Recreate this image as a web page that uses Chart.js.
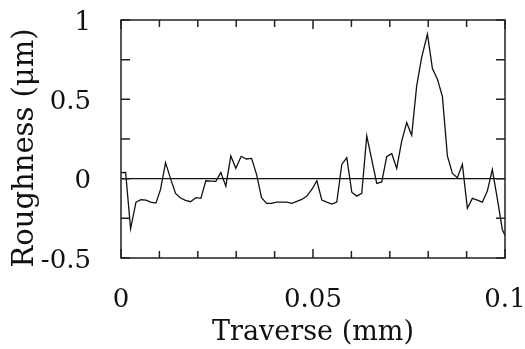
<!DOCTYPE html>
<html>
<head>
<meta charset="utf-8">
<script src="https://cdn.jsdelivr.net/npm/chart.js@4/dist/chart.umd.min.js"></script>
<style>
  html, body { margin: 0; padding: 0; background: #fff; }
</style>
</head>
<body>
<canvas id="myChart" width="525" height="349"></canvas>
<script>
// traverse position (mm) and roughness (µm)
const traverse = [
  0, 0.0012, 0.0025, 0.0039, 0.0052, 0.0065, 0.0077, 0.0091, 0.0103, 0.0116,
  0.0129, 0.0142, 0.0155, 0.0168, 0.0181, 0.0195, 0.0208, 0.0221, 0.0234, 0.0247,
  0.0260, 0.0273, 0.0286, 0.0299, 0.0313, 0.0326, 0.0340, 0.0353, 0.0366, 0.0379,
  0.0392, 0.0405, 0.0418, 0.0432, 0.0445, 0.0458, 0.0471, 0.0484, 0.0497, 0.0510,
  0.0523, 0.0536, 0.0549, 0.0562, 0.0575, 0.0588, 0.0601, 0.0614, 0.0627, 0.0640,
  0.0653, 0.0666, 0.0679, 0.0692, 0.0705, 0.0718, 0.0731, 0.0744, 0.0757, 0.0770,
  0.0783, 0.0798, 0.0811, 0.0824, 0.0837, 0.0850, 0.0863, 0.0876, 0.0889, 0.0902,
  0.0915, 0.0928, 0.0941, 0.0954, 0.0967, 0.0980, 0.0993, 0.1
];
const roughness = [
  0.038, 0.04, -0.316, -0.148, -0.133, -0.135, -0.148, -0.154, -0.068, 0.101,
  0.0, -0.093, -0.122, -0.137, -0.145, -0.12, -0.124, -0.013, -0.015, -0.017,
  0.038, -0.047, 0.143, 0.065, 0.141, 0.124, 0.128, 0.027, -0.12, -0.156,
  -0.156, -0.148, -0.148, -0.148, -0.156, -0.143, -0.131, -0.11, -0.068, -0.013,
  -0.135, -0.148, -0.16, -0.148, 0.09, 0.133, -0.085, -0.11, -0.093, 0.269,
  0.12, -0.03, -0.021, 0.139, 0.158, 0.065, 0.237, 0.353, 0.273, 0.585,
  0.764, 0.911, 0.694, 0.627, 0.518, 0.143, 0.033, 0.006, 0.09, -0.187,
  -0.124, -0.135, -0.148, -0.078, 0.057, -0.126, -0.32, -0.358
];

const xTicks = [0, 0.05, 0.1];
const xMinorTicks = [0.01, 0.02, 0.03, 0.04, 0.06, 0.07, 0.08, 0.09];
const yTicks = [-0.5, 0, 0.5, 1];
const yMinorTicks = [-0.25, 0.25, 0.75];
const xTitle = 'Traverse (mm)';
const yTitle = 'Roughness (μm)';

const serif = 'DejaVu Serif';
const ink = '#111';

// box, inward ticks, zero line and the vertical axis title
const frame = {
  id: 'frame',
  beforeDatasetsDraw(chart) {
    const {ctx, chartArea: a, scales: {y}} = chart;
    const y0 = y.getPixelForValue(0);
    ctx.save();
    ctx.strokeStyle = ink;
    ctx.lineWidth = 1.2;
    ctx.beginPath();
    ctx.moveTo(a.left, y0);
    ctx.lineTo(a.right, y0);
    ctx.stroke();
    ctx.restore();
  },
  afterDatasetsDraw(chart) {
    const {ctx, chartArea: a, scales: {x, y}} = chart;
    ctx.save();
    ctx.strokeStyle = '#222';
    ctx.lineWidth = 1.5;
    ctx.strokeRect(a.left, a.top, a.right - a.left, a.bottom - a.top);

    ctx.beginPath();
    xTicks.concat(xMinorTicks).forEach(v => {
      const px = x.getPixelForValue(v);
      const len = xTicks.includes(v) ? 9 : 7;
      ctx.moveTo(px, a.top);
      ctx.lineTo(px, a.top + len);
      ctx.moveTo(px, a.bottom);
      ctx.lineTo(px, a.bottom - len);
    });
    yTicks.concat(yMinorTicks).forEach(v => {
      const py = y.getPixelForValue(v);
      ctx.moveTo(a.left, py);
      ctx.lineTo(a.left + 9, py);
      ctx.moveTo(a.right, py);
      ctx.lineTo(a.right - 9, py);
    });
    ctx.stroke();

    ctx.translate(25, 148);
    ctx.rotate(-Math.PI / 2);
    ctx.fillStyle = ink;
    ctx.font = '29px "' + serif + '"';
    ctx.textAlign = 'center';
    ctx.textBaseline = 'middle';
    ctx.fillText(yTitle, 0, 0);
    ctx.restore();
  }
};

const data = {
  datasets: [{
    label: 'Roughness',
    data: traverse.map((t, i) => ({x: t, y: roughness[i]})),
    borderColor: ink,
    borderWidth: 1.3,
    pointRadius: 0,
    tension: 0,
    fill: false
  }]
};

const config = {
  type: 'line',
  data: data,
  options: {
    responsive: false,
    animation: false,
    layout: {padding: {top: 20, right: 20, left: 0, bottom: 0}},
    plugins: {legend: {display: false}, tooltip: {enabled: false}},
    scales: {
      x: {
        type: 'linear',
        min: 0,
        max: 0.1,
        afterBuildTicks: s => { s.ticks = xTicks.map(v => ({value: v})); },
        afterFit: s => { s.height = 91; s.paddingLeft = 0; s.paddingRight = 0; },
        grid: {display: false, drawTicks: false},
        border: {display: false},
        ticks: {
          padding: 27,
          maxRotation: 0,
          autoSkip: false,
          color: ink,
          font: {family: serif, size: 26},
          callback: v => String(v)
        },
        title: {
          display: true,
          text: xTitle,
          color: ink,
          font: {family: serif, size: 27},
          padding: {top: 0, bottom: 0}
        }
      },
      y: {
        min: -0.5,
        max: 1,
        afterBuildTicks: s => { s.ticks = yTicks.map(v => ({value: v})); },
        afterFit: s => { s.width = 121; s.paddingTop = 0; s.paddingBottom = 0; },
        grid: {display: false, drawTicks: false},
        border: {display: false},
        ticks: {
          padding: 30,
          labelOffset: 3,
          color: ink,
          font: {family: serif, size: 26},
          callback: v => String(v)
        }
      }
    }
  },
  plugins: [frame]
};

const myChart = new Chart(document.getElementById('myChart'), config);
</script>
</body>
</html>
